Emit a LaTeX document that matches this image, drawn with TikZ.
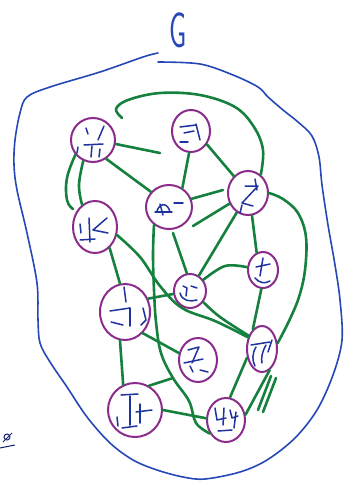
\documentclass[tikz,border=0pt]{standalone}
\usetikzlibrary{shapes.geometric}
\definecolor{edgegreen}{RGB}{22,128,62}
\definecolor{ringpurple}{RGB}{138,44,140}
\definecolor{inkblue}{RGB}{38,72,182}
\definecolor{labelblue}{RGB}{30,50,160}
\tikzset{
  vtx/.style={ellipse, draw=ringpurple, line width=2pt, inner sep=0pt},
  edge/.style={draw=edgegreen, line width=2.6pt, line cap=round, line join=round},
  outline/.style={draw=inkblue, line width=1.6pt, line cap=round},
  glyph/.style={draw=labelblue, line width=1.5pt, line cap=round, line join=round},
}
\begin{document}
\begin{tikzpicture}[x=1pt, y=-1pt]
\useasboundingbox (0,0) rectangle (345,481);

% title
\node[text=inkblue, font=\sffamily\fontsize{50}{50}\selectfont] (title) at (178,30) {\scalebox{0.55}[1]{G}};

% outer blue contour
\draw[outline] plot[smooth, tension=0.55] coordinates {
 (158,53) (143,57) (100,72) (50,87) (27,97) (20,113) (15,140) (14,165) (17,190)
 (27,233) (37,283) (38,320) (40,343) (50,362) (67,387) (87,417) (110,443)
 (133,460) (157,470) (183,477) (205,479) (240,472) (267,460) (295,438)
 (317,410) (333,375) (342,340) (340,300) (335,265) (328,225) (322,185)
 (319,157) (312,136) (298,122) (283,110) (268,97) (258,87) (233,75) (200,64) (158,62)};

% small mark bottom-left
\draw[draw=labelblue!70!black, line width=1pt] (7,437) circle (3);
\draw[draw=labelblue!70!black, line width=1pt] (3,442) -- (12,433);
\draw[draw=labelblue!70!black, line width=1pt] (0,448) -- (15,445);

% vertices
\node[vtx, minimum width=44pt, minimum height=44pt] (A) at (93,140) {};
\node[vtx, minimum width=38pt, minimum height=42pt] (B) at (191,131) {};
\node[vtx, minimum width=46pt, minimum height=44pt] (C) at (169,207) {};
\node[vtx, minimum width=40pt, minimum height=44pt] (D) at (248,193) {};
\node[vtx, minimum width=44pt, minimum height=52pt] (E) at (95,227) {};
\node[vtx, minimum width=32pt, minimum height=34pt] (F) at (190,291) {};
\node[vtx, minimum width=30pt, minimum height=36pt] (T) at (263,270) {};
\node[vtx, minimum width=50pt, minimum height=56pt] (H) at (125,312) {};
\node[vtx, minimum width=38pt, minimum height=44pt] (I) at (198,360) {};
\node[vtx, minimum width=30pt, minimum height=46pt] (J) at (262,349) {};
\node[vtx, minimum width=54pt, minimum height=54pt] (K) at (135,410) {};
\node[vtx, minimum width=38pt, minimum height=44pt] (L) at (226,420) {};

% free ends
\coordinate (s1) at (160,153);
\coordinate (s2) at (122,118);
\coordinate (s4) at (73,209);
\coordinate (s7) at (223,190);
\coordinate (s8) at (193,226);
\coordinate (s12) at (173,233);
\coordinate (jn) at (173,378);
\coordinate (d1a) at (271,376);
\coordinate (d1b) at (258,410);
\coordinate (d2a) at (276,378);
\coordinate (d2b) at (263,412);

% edges
\draw[edge] (A.-10) -- (s1);
\draw[edge] plot[smooth, tension=0.6] coordinates {(s2) (116,109) (128,100) (160,93) (200,95) (235,107) (254,127) (263,150) (D.55)};
\draw[edge] (A.-55) -- (C.140);
\draw[edge] plot[smooth, tension=0.7] coordinates {(A.-140) (67,178) (67,200) (s4)};
\draw[edge] plot[smooth, tension=0.7] coordinates {(A.-115) (79,185) (E.120)};
\draw[edge] (B.-95) -- (C.55);
\draw[edge] (B.-40) -- (D.130);
\draw[edge] (C.20) -- (s7);
\draw[edge] (s8) -- (D.-150);
\draw[edge] (D.-120) -- (F.60);
\draw[edge] (D.-80) -- (T.110);
\draw[edge] plot[smooth, tension=0.6] coordinates {(D.0) (283,199) (298,213) (306,237) (305,270) (299,297) (289,321) (J.20)};
\draw[edge] (s12) -- (F.100);
\draw[edge] plot[smooth, tension=0.6] coordinates {(C.-130) (153,255) (154,290) (156,322) (161,353) (jn) (189,401) (196,423) (L.-140)};
\draw[edge] plot[smooth, tension=0.6] coordinates {(F.40) (225,266) (T.170)};
\draw[edge] plot[smooth, tension=0.6] coordinates {(F.-40) (220,317) (J.135)};
\draw[edge] plot[smooth, tension=0.6] coordinates {(E.-20) (140,257) (160,286) (182,308) (215,321) (J.140)};
\draw[edge] (H.30) -- (F.-170);
\draw[edge] (E.-55) -- (H.100);
\draw[edge] (T.-95) -- (J.115);
\draw[edge] (I.160) -- (H.-50);
\draw[edge] (H.-100) -- (K.115);
\draw[edge] (K.60) -- (jn);
\draw[edge] (K.0) -- (L.175);
\draw[edge] (J.-150) -- (L.80);
\draw[edge] (J.-70) -- (L.15);
\draw[edge] (d1a) -- (d1b);
\draw[edge] (d2a) -- (d2b);

% hand-written labels inside the vertices
% A
\draw[glyph] (86,128) -- (88,134);
\draw[glyph] (104,126) -- (98,140);
\draw[glyph] (84,145) -- (103,144);
\draw[glyph] (92,146) -- (91,157);
\draw[glyph] (78,147) -- (77,153);
\draw[glyph] (100,149) -- (99,157);
% B
\draw[glyph] (180,127) -- (196,125);
\draw[glyph] (184,133) -- (194,131);
\draw[glyph] (196,124) -- (200,140);
\draw[glyph] (180,142) -- (188,142);
% C
\draw[glyph] (157,211) .. controls (160,202) and (168,203) .. (170,212);
\draw[glyph] (160,204) -- (163,215);
\draw[glyph] (155,212) -- (172,212);
\draw[glyph] (174,203) -- (183,203);
% D
\draw[glyph] (245,186) -- (258,186) -- (242,203) -- (253,206);
\draw[glyph] (242,205) -- (240,213);
\draw[glyph] (255,179) -- (257,190);
% E
\draw[glyph] (80,224) -- (81,233);
\draw[glyph] (89,218) -- (90,242);
\draw[glyph] (80,240) -- (95,239);
\draw[glyph] (107,218) -- (93,230) -- (108,233);
% F
\draw[glyph] (183,286) -- (187,288) -- (186,296);
\draw[glyph] (180,293) .. controls (182,301) and (190,302) .. (197,300);
\draw[glyph] (191,286) -- (197,288);
% T
\draw[glyph] (256,267) -- (270,264);
\draw[glyph] (263,258) -- (260,276);
\draw[glyph] (255,278) .. controls (259,283) and (265,284) .. (270,281);
% H
\draw[glyph] (124,287) -- (126,302);
\draw[glyph] (110,311) -- (130,308);
\draw[glyph] (130,308) -- (130,326);
\draw[glyph] (111,322) -- (123,325);
\draw[glyph] (143,308) -- (146,320) -- (141,325);
% I
\draw[glyph] (188,350) -- (199,347) -- (192,363);
\draw[glyph] (184,363) -- (203,359);
\draw[glyph] (190,366) -- (193,372);
\draw[glyph] (200,370) -- (208,372);
% J
\draw[glyph] (251,345) -- (270,342);
\draw[glyph] (256,347) .. controls (252,354) and (252,360) .. (255,366);
\draw[glyph] (266,345) .. controls (262,352) and (261,358) .. (262,363);
\draw[glyph] (272,340) -- (268,352);
% K
\draw[glyph] (121,395) -- (138,394);
\draw[glyph] (130,396) -- (130,425);
\draw[glyph] (136,412) -- (152,410);
\draw[glyph] (140,404) -- (140,423);
\draw[glyph] (117,417) -- (118,426);
\draw[glyph] (122,428) -- (137,426);
% L
\draw[glyph] (215,408) -- (217,420) -- (226,418);
\draw[glyph] (224,408) -- (223,425);
\draw[glyph] (230,410) -- (232,418) -- (238,416);
\draw[glyph] (236,412) -- (234,428);
\draw[glyph] (218,431) -- (232,430);
\end{tikzpicture}
\end{document}
